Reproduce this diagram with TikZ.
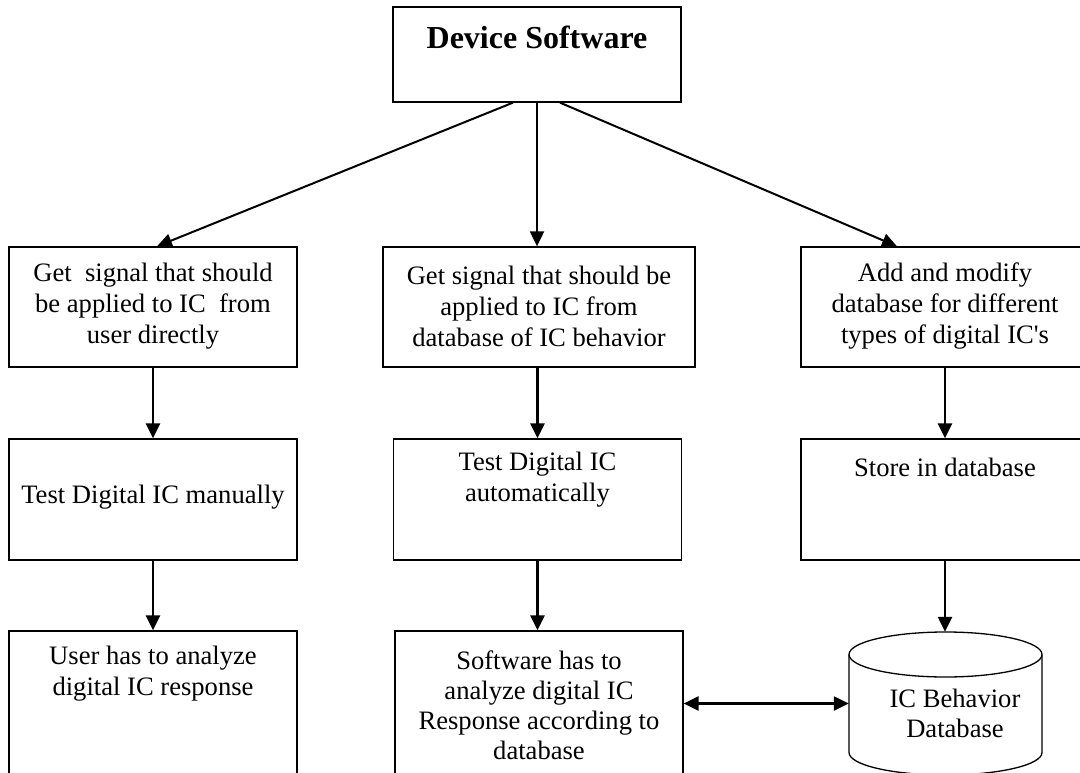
\documentclass[tikz,border=0pt]{standalone}
\usepackage{fontspec}
\setmainfont{Liberation Serif}[Ligatures=TeXOff]
\usetikzlibrary{arrows.meta}

\begin{document}
\begin{tikzpicture}[x=1pt, y=-1pt,
    box/.style={draw, line width=1.3pt, inner sep=0, minimum width=288, minimum height=120},
    txt/.style={align=center, inner sep=0, font=\fontsize{26.6}{31}\selectfont},
    flow/.style={line width=2.4pt, -{Triangle[length=15pt, width=14pt]}}]
  % page frame
  \useasboundingbox (0,0) rectangle (1080,773);
  \clip (0,0) rectangle (1080,773);
  % top
  \node[box, minimum height=95] (dev) at (537,54.5) {};
  \node[txt, font=\fontsize{32}{36}\selectfont\bfseries] (tDev) at (537,37) {Device Software};
  % first row
  \node[box] (sigUser) at (153,307) {};
  \node[box, minimum width=312] (sigDb) at (539,307) {};
  \node[box] (addDb) at (945,307) {};
  \node[txt] (tSigUser) at (153,306) {Get~ signal that should\\be applied to IC~ from\\user directly};
  \node[txt] (tSigDb) at (539,306) {Get signal that should be\\applied to IC from\\database of IC behavior};
  \node[txt] (tAddDb) at (945,306) {Add and modify\\database for different\\types of digital IC's};
  % second row
  \node[box, minimum height=121] (testMan) at (153,499.5) {};
  \node[box, minimum height=121] (testAuto) at (537.5,499.5) {};
  \node[box, minimum height=121] (store) at (945,499.5) {};
  \node[txt] (tTestMan) at (153,497) {Test Digital IC manually};
  \node[txt] (tTestAuto) at (537.5,480) {Test Digital IC\\automatically};
  \node[txt] (tStore) at (945,467) {Store in database};
  % third row
  \node[box, minimum height=169] (userAn) at (153,715.5) {};
  \node[box, minimum height=169] (softAn) at (539,715.5) {};
  \node[txt] (tUserAn) at (153,674) {User has to analyze\\digital IC response};
  \node[txt, font=\fontsize{26.6}{30}\selectfont] (tSoftAn) at (539,705) {Software has to\\analyze digital IC\\Response according to\\database};
  % database
  \node[inner sep=0, minimum width=193, minimum height=143] (icdb) at (945.5,703.5) {};
  \draw[line width=1.3pt] (945.5,654.5) ellipse [x radius=96.5, y radius=22.5];
  \draw[line width=1.3pt] (849,654.5) -- (849,752.5)
    arc[start angle=180, end angle=0, x radius=96.5, y radius=22.5] -- (1042,654.5);
  \node[txt, font=\fontsize{26.6}{30}\selectfont] (tIcdb) at (955,713) {IC Behavior\\Database};
  % arrows
  \draw[flow, line width=2pt] ([xshift=-24]dev.south) -- ([xshift=4]sigUser.north);
  \draw[flow, line width=2pt] (dev.south) -- (dev.south |- sigDb.north);
  \draw[flow, line width=2pt] ([xshift=23]dev.south) -- ([xshift=-48]addDb.north);
  \draw[flow] (sigUser) -- (testMan);
  \draw[flow] (testAuto.north |- sigDb.south) -- (testAuto.north);
  \draw[flow] (addDb) -- (store);
  \draw[flow] (testMan) -- (userAn);
  \draw[flow] (testAuto.south) -- (testAuto.south |- softAn.north);
  \draw[flow] (store.south) -- (store.south |- icdb.north);
  \draw[flow, {Triangle[length=15pt, width=14pt]}-{Triangle[length=15pt, width=14pt]}] (icdb.west -| softAn.east) -- (icdb.west);
\end{tikzpicture}
\end{document}
